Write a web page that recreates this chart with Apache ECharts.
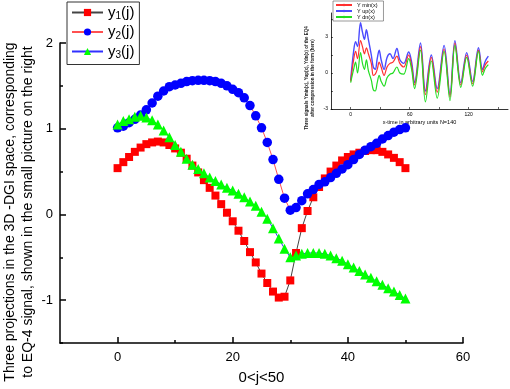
<!DOCTYPE html>
<html>
<head>
<meta charset="utf-8">
<script src="https://cdn.jsdelivr.net/npm/echarts@6/dist/echarts.min.js"></script>
<style>
  html, body { margin: 0; padding: 0; background: #fff; }
  #chart { width: 510px; height: 389px; }
</style>
</head>
<body>
<div id="chart"></div>
<script>
// main plot: three projections, j = 0..50
var y1 = [0.54, 0.61, 0.67, 0.73, 0.78, 0.82, 0.84, 0.85, 0.84, 0.81,
  0.77, 0.72, 0.65, 0.57, 0.49, 0.40, 0.31, 0.22, 0.12, 0.02,
  -0.08, -0.19, -0.31, -0.44, -0.56, -0.69, -0.80, -0.90, -0.97, -0.96,
  -0.77, -0.45, -0.16, 0.04, 0.20, 0.32, 0.42, 0.50, 0.57, 0.63,
  0.67, 0.70, 0.72, 0.74, 0.75, 0.75, 0.73, 0.70, 0.66, 0.61, 0.54];
var y2 = [1.01, 1.03, 1.07, 1.11, 1.16, 1.22, 1.30, 1.38, 1.44, 1.49,
  1.51, 1.53, 1.55, 1.56, 1.565, 1.565, 1.56, 1.55, 1.53, 1.50,
  1.46, 1.42, 1.36, 1.27, 1.15, 1.01, 0.84, 0.64, 0.41, 0.19,
  0.05, 0.08, 0.16, 0.24, 0.29, 0.35, 0.38, 0.43, 0.48, 0.53,
  0.58, 0.64, 0.70, 0.75, 0.79, 0.83, 0.88, 0.92, 0.96, 0.99, 1.01];
var y3 = [1.05, 1.09, 1.11, 1.14, 1.15, 1.13, 1.10, 1.05, 0.98, 0.90,
  0.81, 0.73, 0.65, 0.58, 0.53, 0.48, 0.43, 0.39, 0.35, 0.31,
  0.28, 0.24, 0.20, 0.15, 0.10, 0.03, -0.05, -0.16, -0.28, -0.40,
  -0.50, -0.48, -0.46, -0.45, -0.45, -0.45, -0.46, -0.48, -0.51, -0.54,
  -0.58, -0.62, -0.66, -0.70, -0.74, -0.78, -0.82, -0.86, -0.90, -0.94, -0.98];
var seriesNames = ['y1(j)', 'y2(j)', 'y3(j)'];
var xMajor = [0, 20, 40, 60];
var xMinor = [10, 30, 50];
var yMajor = [-1, 0, 1, 2];
var yMinor = [-1.5, -0.5, 0.5, 1.5];
var yTitle = 'Three projections in the 3D -DGI space, corresponding\nto EQ-4 signal, shown in the small picture on the right';

// small picture (inset)
var insetX = [0, 3, 5, 7, 10, 12, 14, 16, 18, 21, 23, 25, 27, 29, 31, 34, 37, 40, 43, 47,
  50, 54, 59, 62, 65, 71, 76, 82, 88, 95, 101, 106, 112, 118, 124, 130, 134, 137, 140];
var yUp = [-0.6, 1.8, 2.6, 2.2, 4.2, 3.4, 2.8, 3.6, 2.8, 1.5, 0.5, 0.3, 1.2, 1.9, 1.1, 0.3, 1.3, 1.6, 1.2, 2.05,
  1.1, 0.8, 1.75, 0.9, -0.8, 2.5, -1.5, 1.5, -1.3, 2.3, -1.8, 2.7, -0.8, 1.7, -0.7, 2.1, 0.3, 1.0, 1.4];
var yMin = [-0.7, 1.1, 1.8, 1.2, 2.7, 2.2, 1.6, 2.1, 1.6, 0.8, -0.2, -0.1, 0.3, 0.9, 0.5, -0.2, 0.5, 0.8, 0.9, 1.4,
  0.8, 0.5, 1.5, 0.6, -1.0, 2.2, -1.8, 1.3, -1.6, 2.0, -2.0, 2.5, -1.0, 1.5, -0.9, 1.9, 0.1, 0.7, 1.0];
var yDn = [-0.8, 0.3, 0.9, 0.0, 1.7, 0.8, 0.3, 1.1, 0.2, -0.6, -1.4, -1.5, -0.8, -0.2, -0.7, -1.1, -0.4, -0.1, 0.0, 0.5,
  0.0, -0.1, 1.2, 0.3, -1.3, 1.9, -2.4, 1.0, -2.1, 1.8, -2.3, 2.3, -1.2, 1.3, -1.1, 1.8, -0.2, 0.4, 0.7];
var insetNames = ['Y min(x)', 'Y up(x)', 'Y dn(x)'];
var insetXMajor = [0, 60, 120];
var insetXTicks = [0, 30, 60, 90, 120, 150];
var insetYMajor = [-3, 0, 3];
var insetYTicks = [-3, -1.5, 0, 1.5, 3, 4.5];
var insetTitle = 'Three signals Ymin(x), Yup(x), Ydn(x) of the EQ4\nafter compression in the form (here)';

var FONT = 'Liberation Sans';

function pairs(xs, ys) {
  return ys.map(function (v, i) { return [xs ? xs[i] : i, v]; });
}

var chart = echarts.init(document.getElementById('chart'));
chart.setOption({
  animation: false,
  backgroundColor: '#fff',
  textStyle: { fontFamily: FONT, color: '#000' },
  grid: [
    { left: 60, right: 47, top: 43, bottom: 46, outerBoundsMode: 'none' },
    { left: 331, top: 13, width: 177, height: 96, outerBoundsMode: 'none' }
  ],
  // rotated axis titles
  graphic: [
    {
      type: 'text', x: 19, y: 212, rotation: Math.PI / 2,
      style: { text: yTitle, fontSize: 14, fontFamily: FONT, fill: '#000', align: 'center', verticalAlign: 'middle', lineHeight: 18 }
    },
    {
      type: 'text', x: 310, y: 78, rotation: Math.PI / 2,
      style: { text: insetTitle, fontSize: 4.5, fontFamily: FONT, fontWeight: 'bold', fill: '#222', align: 'center', verticalAlign: 'middle', lineHeight: 6 }
    }
  ],
  legend: [
    {
      left: 67,
      top: 2,
      orient: 'vertical',
      data: seriesNames,
      itemWidth: 31,
      itemHeight: 9,
      itemGap: 3,
      padding: [3, 5, 4, 4],
      borderColor: '#333',
      borderWidth: 1,
      formatter: function (name) {
        return '{n|y}{s|' + name.charAt(1) + '}{n|(j)}';
      },
      textStyle: {
        rich: {
          n: { fontSize: 15, fontFamily: FONT, color: '#000', lineHeight: 18 },
          s: { fontSize: 10, fontFamily: FONT, color: '#000', lineHeight: 10, verticalAlign: 'bottom' }
        }
      }
    },
    {
      left: 333,
      top: 1,
      orient: 'vertical',
      data: insetNames,
      itemWidth: 16,
      itemHeight: 3,
      itemGap: 0,
      padding: [1, 6, 1, 2],
      borderColor: '#555',
      borderWidth: 0.6,
      textStyle: { fontSize: 5.5, fontFamily: FONT, color: '#000' }
    }
  ],
  xAxis: [
    {
      gridIndex: 0, type: 'value', min: -10, max: 60,
      name: '0<j<50', nameLocation: 'middle', nameGap: 27,
      nameTextStyle: { fontSize: 15, fontFamily: FONT, color: '#000' },
      axisLine: { onZero: false, lineStyle: { color: '#000', width: 1.5 } },
      axisTick: { inside: true, length: 6, customValues: xMajor, lineStyle: { color: '#000', width: 1.5 } },
      axisLabel: { customValues: xMajor, fontSize: 13, color: '#000', margin: 8 },
      splitLine: { show: false }
    },
    {
      gridIndex: 0, type: 'value', min: -10, max: 60, position: 'bottom',
      axisLine: { show: false, onZero: false },
      axisTick: { inside: true, length: 3, customValues: xMinor, lineStyle: { color: '#000', width: 1.5 } },
      axisLabel: { show: false },
      splitLine: { show: false }
    },
    {
      gridIndex: 1, type: 'value', min: -20, max: 160,
      name: 'x-time in arbitrary units N=140', nameLocation: 'middle', nameGap: 10,
      nameTextStyle: { fontSize: 5.5, fontFamily: FONT, color: '#000' },
      axisLine: { onZero: false, lineStyle: { color: '#000', width: 0.8 } },
      axisTick: { inside: true, length: 2, customValues: insetXTicks, lineStyle: { color: '#000', width: 0.6 } },
      axisLabel: { customValues: insetXMajor, fontSize: 5, color: '#000', margin: 3 },
      splitLine: { show: false }
    }
  ],
  yAxis: [
    {
      gridIndex: 0, type: 'value', min: -1.5, max: 2,
      axisLine: { onZero: false, lineStyle: { color: '#000', width: 1.5 } },
      axisTick: { inside: true, length: 6, customValues: yMajor, lineStyle: { color: '#000', width: 1.5 } },
      axisLabel: { customValues: yMajor, fontSize: 13, color: '#000', margin: 7 },
      splitLine: { show: false }
    },
    {
      gridIndex: 0, type: 'value', min: -1.5, max: 2, position: 'left',
      axisLine: { show: false, onZero: false },
      axisTick: { inside: true, length: 3, customValues: yMinor, lineStyle: { color: '#000', width: 1.5 } },
      axisLabel: { show: false },
      splitLine: { show: false }
    },
    {
      gridIndex: 1, type: 'value', min: -3, max: 5,
      axisLine: { onZero: false, lineStyle: { color: '#000', width: 0.8 } },
      axisTick: { inside: true, length: 2, customValues: insetYTicks, lineStyle: { color: '#000', width: 0.6 } },
      axisLabel: { customValues: insetYMajor, fontSize: 5, color: '#000', margin: 3 },
      splitLine: { show: false }
    }
  ],
  series: [
    {
      name: seriesNames[0], type: 'line', xAxisIndex: 0, yAxisIndex: 0,
      data: pairs(null, y1),
      symbol: 'rect', symbolSize: 8, showAllSymbol: true,
      itemStyle: { color: '#ff0000' },
      lineStyle: { color: '#444', width: 1 }
    },
    {
      name: seriesNames[1], type: 'line', xAxisIndex: 0, yAxisIndex: 0,
      data: pairs(null, y2),
      symbol: 'circle', symbolSize: 9.5, showAllSymbol: true,
      itemStyle: { color: '#0000ff' },
      lineStyle: { color: '#ff5050', width: 1 }
    },
    {
      name: seriesNames[2], type: 'line', xAxisIndex: 0, yAxisIndex: 0,
      data: pairs(null, y3),
      symbol: 'triangle', symbolSize: 10, showAllSymbol: true,
      itemStyle: { color: '#00ff00' },
      lineStyle: { color: '#3030ff', width: 1 }
    },
    {
      name: insetNames[1], type: 'line', xAxisIndex: 2, yAxisIndex: 2,
      data: pairs(insetX, yUp), symbol: 'none', smooth: 0.35,
      itemStyle: { color: '#4a4aff' },
      lineStyle: { color: '#4a4aff', width: 1.4 }
    },
    {
      name: insetNames[0], type: 'line', xAxisIndex: 2, yAxisIndex: 2,
      data: pairs(insetX, yMin), symbol: 'none', smooth: 0.35,
      itemStyle: { color: '#ff3030' },
      lineStyle: { color: '#ff3030', width: 1.2 }
    },
    {
      name: insetNames[2], type: 'line', xAxisIndex: 2, yAxisIndex: 2,
      data: pairs(insetX, yDn), symbol: 'none', smooth: 0.35,
      itemStyle: { color: '#22dd22' },
      lineStyle: { color: '#22dd22', width: 1.2 }
    }
  ]
});
</script>
</body>
</html>
